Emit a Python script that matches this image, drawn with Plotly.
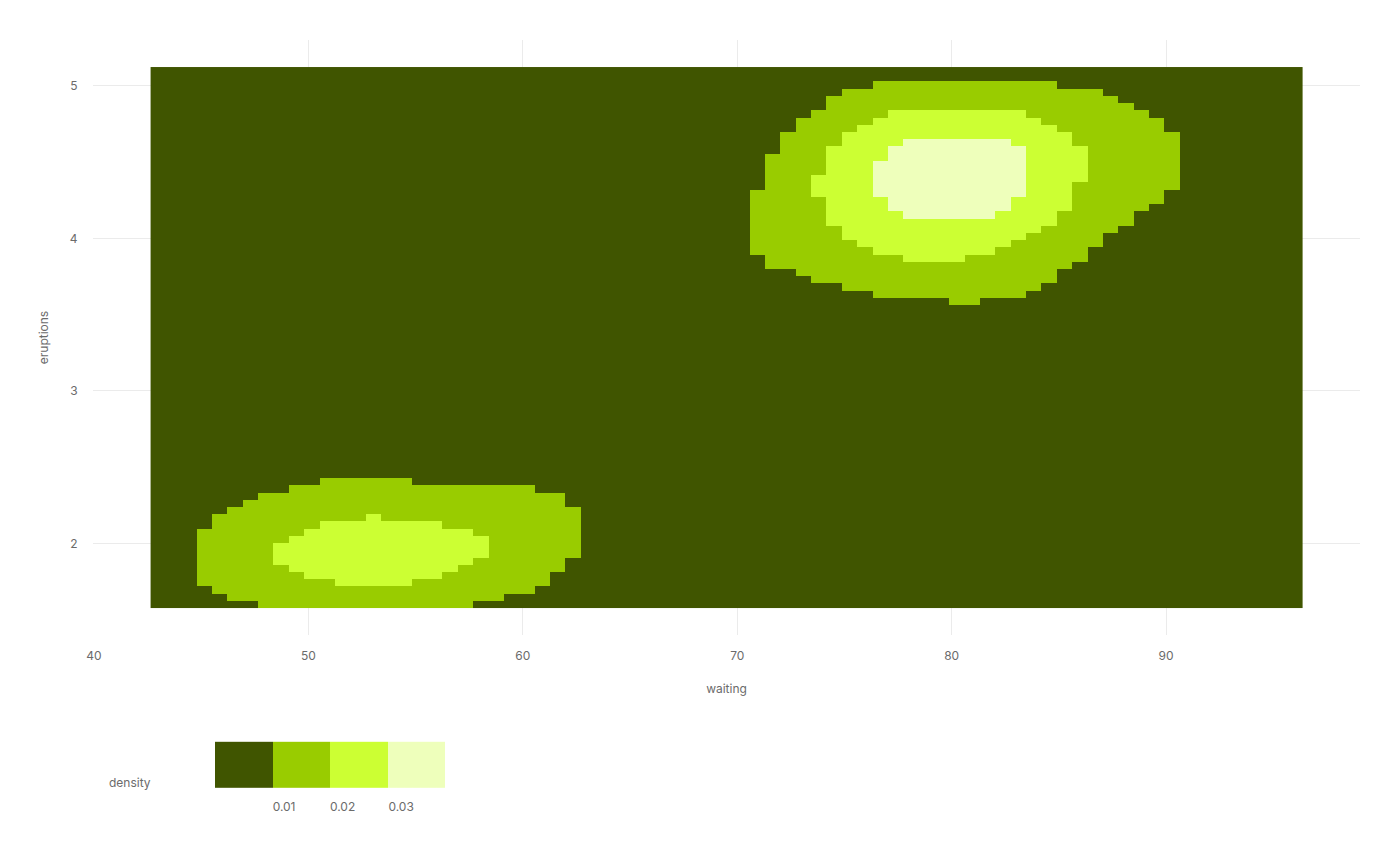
import numpy as np
import plotly.graph_objects as go

# ---- grid (faithful: waiting 43..96, eruptions 1.6..5.1), 75 x 75 cells ----
n_grid = 75
waiting_min, waiting_max = 43, 96
eruptions_min, eruptions_max = 1.6, 5.1

# density bins (legend): 4 classes
density_breaks = [-0.0018, 0.008025, 0.01785, 0.027675, 0.0375]
density_colors = ["#405500", "#99cc00", "#ccff33", "#eeffbb"]
tick_values = [0.01, 0.02, 0.03]
tick_labels = ["0.01", "0.02", "0.03"]

# Runs: row (counted from the top), first column, last column
level1_runs = [
    (2, 47, 58), (3, 45, 61), (4, 44, 62), (5, 44, 63), (6, 43, 64), (7, 42, 65),
    (8, 42, 65), (9, 41, 66), (10, 41, 66), (11, 41, 66), (12, 40, 66), (13, 40, 66),
    (14, 40, 66), (15, 40, 66), (16, 40, 66), (17, 39, 65), (18, 39, 65), (19, 39, 64),
    (20, 39, 63), (21, 39, 63), (22, 39, 62), (23, 39, 61), (24, 39, 61), (25, 39, 60),
    (26, 40, 60), (27, 40, 59), (28, 42, 58), (29, 43, 58), (30, 45, 57), (31, 47, 56),
    (32, 52, 53),
    (57, 11, 16), (58, 9, 24), (59, 7, 26), (60, 6, 26), (61, 5, 27), (62, 4, 27),
    (63, 4, 27), (64, 3, 27), (65, 3, 27), (66, 3, 27), (67, 3, 27), (68, 3, 26),
    (69, 3, 26), (70, 3, 25), (71, 3, 25), (72, 4, 24), (73, 5, 22), (74, 7, 20),
]
level2_runs = [
    (6, 48, 56), (7, 47, 57), (8, 46, 58), (9, 45, 59), (10, 45, 59), (11, 44, 60),
    (12, 44, 60), (13, 44, 60), (14, 44, 60), (15, 43, 60), (16, 43, 59), (17, 43, 59),
    (18, 44, 59), (19, 44, 59), (20, 44, 58), (21, 44, 58), (22, 45, 57), (23, 45, 56),
    (24, 46, 55), (25, 47, 54), (26, 49, 52),
    (62, 14, 14), (63, 11, 18), (64, 10, 20), (65, 9, 21), (66, 8, 21), (67, 8, 21),
    (68, 8, 20), (69, 9, 19), (70, 10, 18), (71, 12, 16),
]
level3_runs = [
    (10, 49, 55), (11, 48, 56), (12, 48, 56), (13, 47, 56), (14, 47, 56), (15, 47, 56),
    (16, 47, 56), (17, 47, 56), (18, 48, 55), (19, 48, 55), (20, 49, 54),
]

waiting = np.linspace(waiting_min, waiting_max, n_grid)
eruptions = np.linspace(eruptions_min, eruptions_max, n_grid)

level = np.zeros((n_grid, n_grid), dtype=int)
for lv, runs in ((1, level1_runs), (2, level2_runs), (3, level3_runs)):
    for r, c0, c1 in runs:
        level[n_grid - 1 - r, c0:c1 + 1] = lv

bin_mid = [(density_breaks[i] + density_breaks[i + 1]) / 2 for i in range(4)]
z = np.array(bin_mid)[level]

zmin, zmax = density_breaks[0], density_breaks[-1]
colorscale = []
for i, c in enumerate(density_colors):
    a = (density_breaks[i] - zmin) / (zmax - zmin)
    b = (density_breaks[i + 1] - zmin) / (zmax - zmin)
    colorscale += [[a, c], [b, c]]

text_color = "#6b6b6b"
font_family = "Inter, Roboto, 'Noto Sans', sans-serif"

fig = go.Figure(go.Heatmap(
    x=waiting, y=eruptions, z=z,
    zmin=zmin, zmax=zmax, colorscale=colorscale, zsmooth=False,
    hoverinfo="skip",
    colorbar=dict(
        orientation="h", x=0.18706, xanchor="center", y=-0.2403, yanchor="middle",
        len=230, lenmode="pixels", thickness=46, thicknessmode="pixels",
        xpad=0, ypad=0, outlinewidth=0,
        tickvals=tick_values, ticktext=tick_labels,
        ticks="outside", ticklen=9, tickcolor="rgba(0,0,0,0)",
        tickfont=dict(size=12, color=text_color, family=font_family),
    ),
))

fig.update_layout(
    width=1392, height=858,
    margin=dict(l=85, r=40, t=32, b=231),
    paper_bgcolor="white", plot_bgcolor="white",
    font=dict(family=font_family, size=12, color=text_color),
    xaxis=dict(
        range=[39.956, 99.044], tickvals=[40, 50, 60, 70, 80, 90],
        showgrid=True, gridcolor="#ebebeb", gridwidth=1, zeroline=False, showline=False,
        ticks="outside", ticklen=10, tickcolor="rgba(0,0,0,0)",
        tickfont=dict(size=12, color=text_color),
        title=dict(text="waiting", font=dict(size=12, color=text_color), standoff=22),
    ),
    yaxis=dict(
        range=[1.399, 5.301], tickvals=[2, 3, 4, 5],
        showgrid=True, gridcolor="#ebebeb", gridwidth=1, zeroline=False, showline=False,
        ticks="outside", ticklen=12, tickcolor="rgba(0,0,0,0)",
        tickfont=dict(size=12, color=text_color),
        title=dict(text="eruptions", font=dict(size=12, color=text_color), standoff=18),
    ),
    annotations=[dict(
        text="density", xref="paper", yref="paper", x=0.0292, y=-0.2487,
        xanchor="center", yanchor="middle", showarrow=False,
        font=dict(size=12, color=text_color, family=font_family),
    )],
)

fig.write_html("out.html")
